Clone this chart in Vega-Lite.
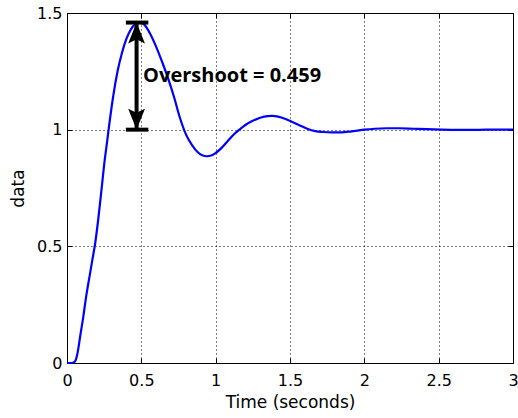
{
  "$schema": "https://vega.github.io/schema/vega-lite/v6.json",
  "width": 446,
  "height": 350,
  "autosize": "none",
  "padding": {"left": 67, "top": 13, "right": 5, "bottom": 55},
  "background": "white",
  "datasets": {
    "response": [
      {"t": 0, "y": 0}, {"t": 0.02, "y": 0}, {"t": 0.04, "y": 0.001}, {"t": 0.055, "y": 0.008},
      {"t": 0.07, "y": 0.04}, {"t": 0.09, "y": 0.12}, {"t": 0.11, "y": 0.2}, {"t": 0.13, "y": 0.29},
      {"t": 0.15, "y": 0.365}, {"t": 0.17, "y": 0.44}, {"t": 0.19, "y": 0.515}, {"t": 0.21, "y": 0.615},
      {"t": 0.23, "y": 0.73}, {"t": 0.25, "y": 0.85}, {"t": 0.27, "y": 0.95}, {"t": 0.29, "y": 1.05},
      {"t": 0.31, "y": 1.14}, {"t": 0.34, "y": 1.25}, {"t": 0.37, "y": 1.33}, {"t": 0.40, "y": 1.39},
      {"t": 0.43, "y": 1.43}, {"t": 0.46, "y": 1.452}, {"t": 0.49, "y": 1.459}, {"t": 0.52, "y": 1.45},
      {"t": 0.56, "y": 1.41}, {"t": 0.60, "y": 1.355}, {"t": 0.64, "y": 1.29}, {"t": 0.68, "y": 1.22},
      {"t": 0.72, "y": 1.14}, {"t": 0.76, "y": 1.05}, {"t": 0.80, "y": 0.98}, {"t": 0.84, "y": 0.935},
      {"t": 0.88, "y": 0.903}, {"t": 0.91, "y": 0.89}, {"t": 0.94, "y": 0.886}, {"t": 0.97, "y": 0.889},
      {"t": 1.00, "y": 0.9}, {"t": 1.04, "y": 0.922}, {"t": 1.08, "y": 0.95}, {"t": 1.12, "y": 0.978},
      {"t": 1.16, "y": 1.0}, {"t": 1.20, "y": 1.02}, {"t": 1.25, "y": 1.038}, {"t": 1.30, "y": 1.051},
      {"t": 1.35, "y": 1.058}, {"t": 1.38, "y": 1.059}, {"t": 1.42, "y": 1.056}, {"t": 1.47, "y": 1.046},
      {"t": 1.52, "y": 1.032}, {"t": 1.57, "y": 1.017}, {"t": 1.62, "y": 1.003}, {"t": 1.67, "y": 0.994},
      {"t": 1.72, "y": 0.99}, {"t": 1.78, "y": 0.988}, {"t": 1.83, "y": 0.988}, {"t": 1.89, "y": 0.991},
      {"t": 1.95, "y": 0.996}, {"t": 2.00, "y": 1.0}, {"t": 2.07, "y": 1.004}, {"t": 2.15, "y": 1.006},
      {"t": 2.24, "y": 1.006}, {"t": 2.33, "y": 1.004}, {"t": 2.42, "y": 1.002}, {"t": 2.52, "y": 1.0},
      {"t": 2.62, "y": 0.999}, {"t": 2.72, "y": 0.999}, {"t": 2.82, "y": 1.0}, {"t": 2.92, "y": 1.0},
      {"t": 3.00, "y": 1.0}
    ],
    "caps": [
      {"t": 0.396, "t2": 0.547, "y": 1.459},
      {"t": 0.396, "t2": 0.547, "y": 1.0}
    ],
    "shaft": [
      {"t": 0.468, "y": 1.0, "y2": 1.459}
    ],
    "heads": [
      {"t": 0.468, "y": 1.459, "tip": "top"},
      {"t": 0.468, "y": 1.0, "tip": "bottom"}
    ],
    "note": [
      {"t": 0.512, "y": 1.205, "label": "Overshoot = 0.459"}
    ]
  },
  "layer": [
    {
      "data": {"name": "response"},
      "mark": {"type": "line", "color": "#0000ff", "strokeWidth": 2.2, "interpolate": "monotone"},
      "encoding": {
        "x": {
          "field": "t", "type": "quantitative",
          "scale": {"domain": [0, 3], "nice": false, "zero": false},
          "axis": {
            "orient": "bottom", "title": "Time (seconds)",
            "values": [0, 0.5, 1, 1.5, 2, 2.5, 3], "format": "~g",
            "grid": true, "tickSize": -5, "labelPadding": 14,
            "titleX": 223, "titleY": 44, "titleBaseline": "alphabetic", "titleAnchor": null
          }
        },
        "y": {
          "field": "y", "type": "quantitative",
          "scale": {"domain": [0, 1.5], "nice": false, "zero": false},
          "axis": {
            "orient": "left", "title": "data",
            "values": [0, 0.5, 1, 1.5], "format": "~g",
            "grid": true, "tickSize": -5, "labelPadding": 10,
            "titleX": -44, "titleY": 175, "titleBaseline": "alphabetic", "titleAngle": -90
          }
        }
      }
    },
    {
      "data": {"name": "caps"},
      "mark": {"type": "rule", "color": "black", "strokeWidth": 4},
      "encoding": {
        "x": {
          "field": "t", "type": "quantitative",
          "axis": {"orient": "top", "title": null, "labels": false, "grid": false,
                   "values": [0, 0.5, 1, 1.5, 2, 2.5, 3], "tickSize": -5}
        },
        "x2": {"field": "t2"},
        "y": {
          "field": "y", "type": "quantitative",
          "axis": {"orient": "right", "title": null, "labels": false, "grid": false,
                   "values": [0, 0.5, 1, 1.5], "tickSize": -5}
        }
      }
    },
    {
      "data": {"name": "shaft"},
      "mark": {"type": "rule", "color": "black", "strokeWidth": 4},
      "encoding": {
        "x": {"field": "t", "type": "quantitative", "axis": null},
        "y": {"field": "y", "type": "quantitative", "axis": null},
        "y2": {"field": "y2"}
      }
    },
    {
      "data": {"name": "heads"},
      "mark": {"type": "point", "filled": true, "color": "black", "opacity": 1, "size": 441, "strokeWidth": 0},
      "encoding": {
        "x": {"field": "t", "type": "quantitative", "axis": null},
        "y": {"field": "y", "type": "quantitative", "axis": null},
        "shape": {
          "field": "tip", "type": "nominal", "legend": null,
          "scale": {
            "domain": ["top", "bottom"],
            "range": ["M0,0L-0.8,2L0,1.6L0.8,2Z", "M0,0L-0.8,-2L0,-1.6L0.8,-2Z"]
          }
        }
      }
    },
    {
      "data": {"name": "note"},
      "mark": {"type": "text", "align": "left", "baseline": "alphabetic", "font": "Open Sans",
               "fontWeight": "bold", "fontSize": 20, "color": "black"},
      "encoding": {
        "x": {"field": "t", "type": "quantitative", "axis": null},
        "y": {"field": "y", "type": "quantitative", "axis": null},
        "text": {"field": "label"}
      }
    }
  ],
  "resolve": {"axis": {"x": "independent", "y": "independent"}},
  "config": {
    "view": {"stroke": "#000", "strokeWidth": 1},
    "axis": {
      "domain": false,
      "ticks": true,
      "tickColor": "#000",
      "tickWidth": 1,
      "labelFont": "DejaVu Sans",
      "labelFontSize": 16,
      "labelColor": "#000",
      "labelFlush": false,
      "labelOverlap": false,
      "labelBound": false,
      "titleFont": "DejaVu Sans",
      "titleFontSize": 17,
      "titleFontWeight": "normal",
      "titleColor": "#000",
      "gridColor": "#000",
      "gridDash": [1, 3],
      "gridOpacity": 1,
      "gridWidth": 1
    }
  }
}
